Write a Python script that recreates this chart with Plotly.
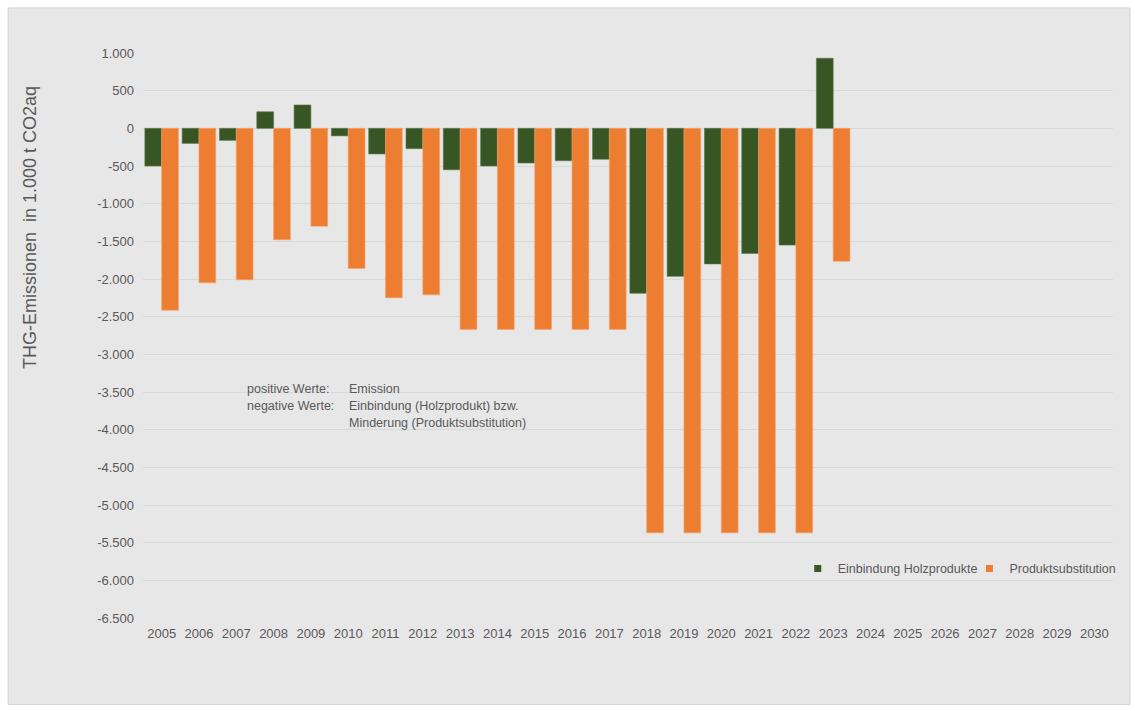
import plotly.graph_objects as go

# Jahre der Kategorieachse (2024-2030 ohne Werte)
years = [str(y) for y in range(2005, 2031)]

# Einbindung Holzprodukte (1.000 t CO2aq)
einbindung = [-500, -200, -160, 220, 310, -100, -340, -270, -550, -500,
              -460, -430, -410, -2190, -1965, -1800, -1660, -1550, 930,
              None, None, None, None, None, None, None]

# Produktsubstitution (1.000 t CO2aq)
substitution = [-2415, -2050, -2010, -1480, -1300, -1860, -2250, -2210, -2670, -2670,
                -2670, -2670, -2670, -5370, -5370, -5370, -5370, -5370, -1765,
                None, None, None, None, None, None, None]

y_ticks = list(range(1000, -7000, -500))
y_ticktext = [f"{v:,}".replace(",", ".") for v in y_ticks]

GREEN = "#375623"
ORANGE = "#ED7D31"
TEXT = "#595959"
FONT = "Liberation Sans, Arial, sans-serif"

fig = go.Figure()
fig.add_trace(go.Bar(x=years, y=einbindung, name="Einbindung Holzprodukte",
                     marker=dict(color=GREEN, line=dict(color="#5a7448", width=0.6)),
                     showlegend=False))
fig.add_trace(go.Bar(x=years, y=substitution, name="Produktsubstitution",
                     marker=dict(color=ORANGE, line=dict(color="#f4a46e", width=0.6)),
                     showlegend=False))

# kleine quadratische Legendensymbole, je Eintrag eine eigene Legende
fig.add_trace(go.Scatter(x=[None], y=[None], mode="markers", name="Einbindung Holzprodukte",
                         marker=dict(symbol="square", size=7, color=GREEN), legend="legend"))
fig.add_trace(go.Scatter(x=[None], y=[None], mode="markers", name="Produktsubstitution",
                         marker=dict(symbol="square", size=7, color=ORANGE), legend="legend2"))

# Erläuterungstext im Diagramm
notes_left = ["positive Werte:", "negative Werte:"]
notes_right = ["Emission", "Einbindung (Holzprodukt) bzw.", "Minderung (Produktsubstitution)"]
note_y = [-3457, -3682, -3908]
for i, t in enumerate(notes_left):
    fig.add_annotation(text=t, x=0.105, xref="paper", y=note_y[i], yref="y",
                       xanchor="left", yanchor="middle", showarrow=False,
                       font=dict(family=FONT, size=12.5, color=TEXT))
for i, t in enumerate(notes_right):
    fig.add_annotation(text=t, x=0.2103, xref="paper", y=note_y[i], yref="y",
                       xanchor="left", yanchor="middle", showarrow=False,
                       font=dict(family=FONT, size=12.5, color=TEXT))

# Achsentitel
fig.add_annotation(text="THG-Emissionen  in 1.000 t CO2aq", textangle=-90,
                   x=-0.1165, xref="paper", y=0.692, yref="paper",
                   xanchor="center", yanchor="middle", showarrow=False,
                   font=dict(family=FONT, size=18, color=TEXT))

# Diagrammrahmen
fig.add_shape(type="rect", xref="paper", yref="paper",
              x0=-0.139, x1=1.0175, y0=-0.153, y1=1.0797,
              fillcolor="#E7E7E7", line=dict(color="#D2D2D2", width=1), layer="below")

legend_common = dict(orientation="h", xanchor="left", y=0.087, yanchor="middle",
                     bgcolor="rgba(0,0,0,0)", borderwidth=0,
                     font=dict(family=FONT, size=12.5, color=TEXT), itemclick=False)

fig.update_layout(
    width=1135, height=711,
    margin=dict(l=143, r=22, t=53, b=93),
    paper_bgcolor="white",
    plot_bgcolor="rgba(0,0,0,0)",
    barmode="group", bargap=0.1, bargroupgap=0,
    separators=",.",
    font=dict(family=FONT, size=13, color=TEXT),
    showlegend=True,
    legend=dict(x=0.675, **legend_common),
    legend2=dict(x=0.852, **legend_common),
    xaxis=dict(type="category", categoryorder="array", categoryarray=years,
               showgrid=False, showline=False, ticks="", ticklabelstandoff=6,
               tickfont=dict(size=13, color=TEXT)),
    yaxis=dict(range=[-6500, 1000], tickvals=y_ticks, ticktext=y_ticktext,
               showgrid=True, gridcolor="#D9D9D9", gridwidth=1,
               zeroline=True, zerolinecolor="#D9D9D9", zerolinewidth=1,
               showline=False, ticks="", ticklabelstandoff=8,
               tickfont=dict(size=13, color=TEXT)),
)

fig.write_html("out.html")
